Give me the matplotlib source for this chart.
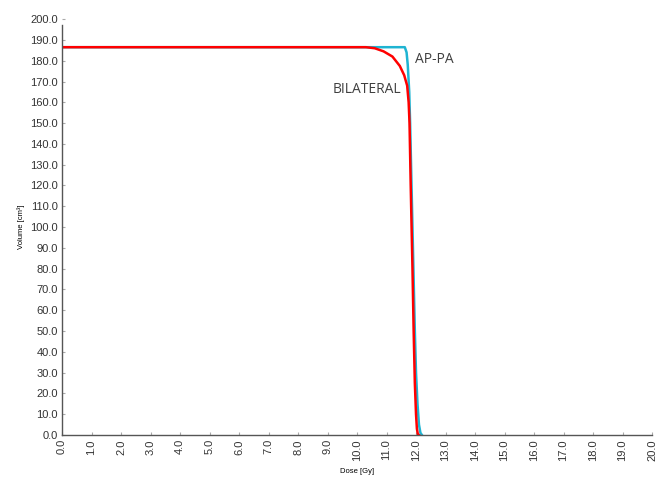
import matplotlib.pyplot as plt

# Dose-volume histogram data
bilat_dose = [0.0, 10.3, 10.6, 10.9, 11.2, 11.45, 11.6, 11.7, 11.75, 11.78, 11.8,
              11.82, 11.85, 11.88, 11.92, 11.96, 12.0, 12.03, 12.06, 12.1]
bilat_vol = [186.5, 186.5, 186.0, 184.5, 182.0, 177.5, 173.0, 168.0, 160.0, 150.0, 135.0,
             120.0, 100.0, 80.0, 50.0, 25.0, 10.0, 3.0, 0.5, 0.0]
appa_dose = [0.0, 11.62, 11.68, 11.72, 11.77, 11.8, 11.84, 11.88, 11.92, 11.96,
             12.0, 12.05, 12.1, 12.15, 12.2]
appa_vol = [186.5, 186.5, 184.0, 178.0, 165.0, 150.0, 125.0, 100.0, 75.0, 50.0,
            30.0, 15.0, 5.0, 1.0, 0.0]

x_ticks = [i * 1.0 for i in range(21)]
y_ticks = [i * 10.0 for i in range(21)]

fig = plt.figure(figsize=(6.57, 4.83), dpi=100)
ax = fig.add_axes([0.0944, 0.0994, 0.898, 0.861])

ax.plot(appa_dose, appa_vol, color="#1fb4d2", lw=1.8)
ax.plot(bilat_dose, bilat_vol, color="#ff0000", lw=1.8)

ax.set_xlim(0, 20)
ax.set_ylim(0, 200)
ax.set_xticks(x_ticks)
ax.set_yticks(y_ticks)
ax.set_xticklabels([f"{v:.1f}" for v in x_ticks], rotation=90,
                   fontsize=8, family="Liberation Sans", color="#333333")
ax.set_yticklabels([f"{v:.1f}" for v in y_ticks],
                   fontsize=8, family="Liberation Sans", color="#333333")
ax.tick_params(direction="in", length=2, width=0.8, color="#aaaaaa", pad=3)

for side in ["top", "right"]:
    ax.spines[side].set_visible(False)
for side in ["left", "bottom"]:
    ax.spines[side].set_color("#555555")
    ax.spines[side].set_linewidth(1.0)
ax.spines["left"].set_bounds(0, 197)

ax.set_xlabel("Dose [Gy]", fontsize=5.5, family="Liberation Sans", labelpad=5)
ax.set_ylabel("Volume [cm³]", fontsize=5.5, family="Liberation Sans", labelpad=4)

ax.text(11.95, 180.5, "AP-PA", fontsize=10, family="Open Sans", color="#404040",
        ha="left", va="center")
ax.text(11.5, 166, "BILATERAL", fontsize=10, family="Open Sans", color="#404040",
        ha="right", va="center")

fig.savefig("out.png", dpi=100)
